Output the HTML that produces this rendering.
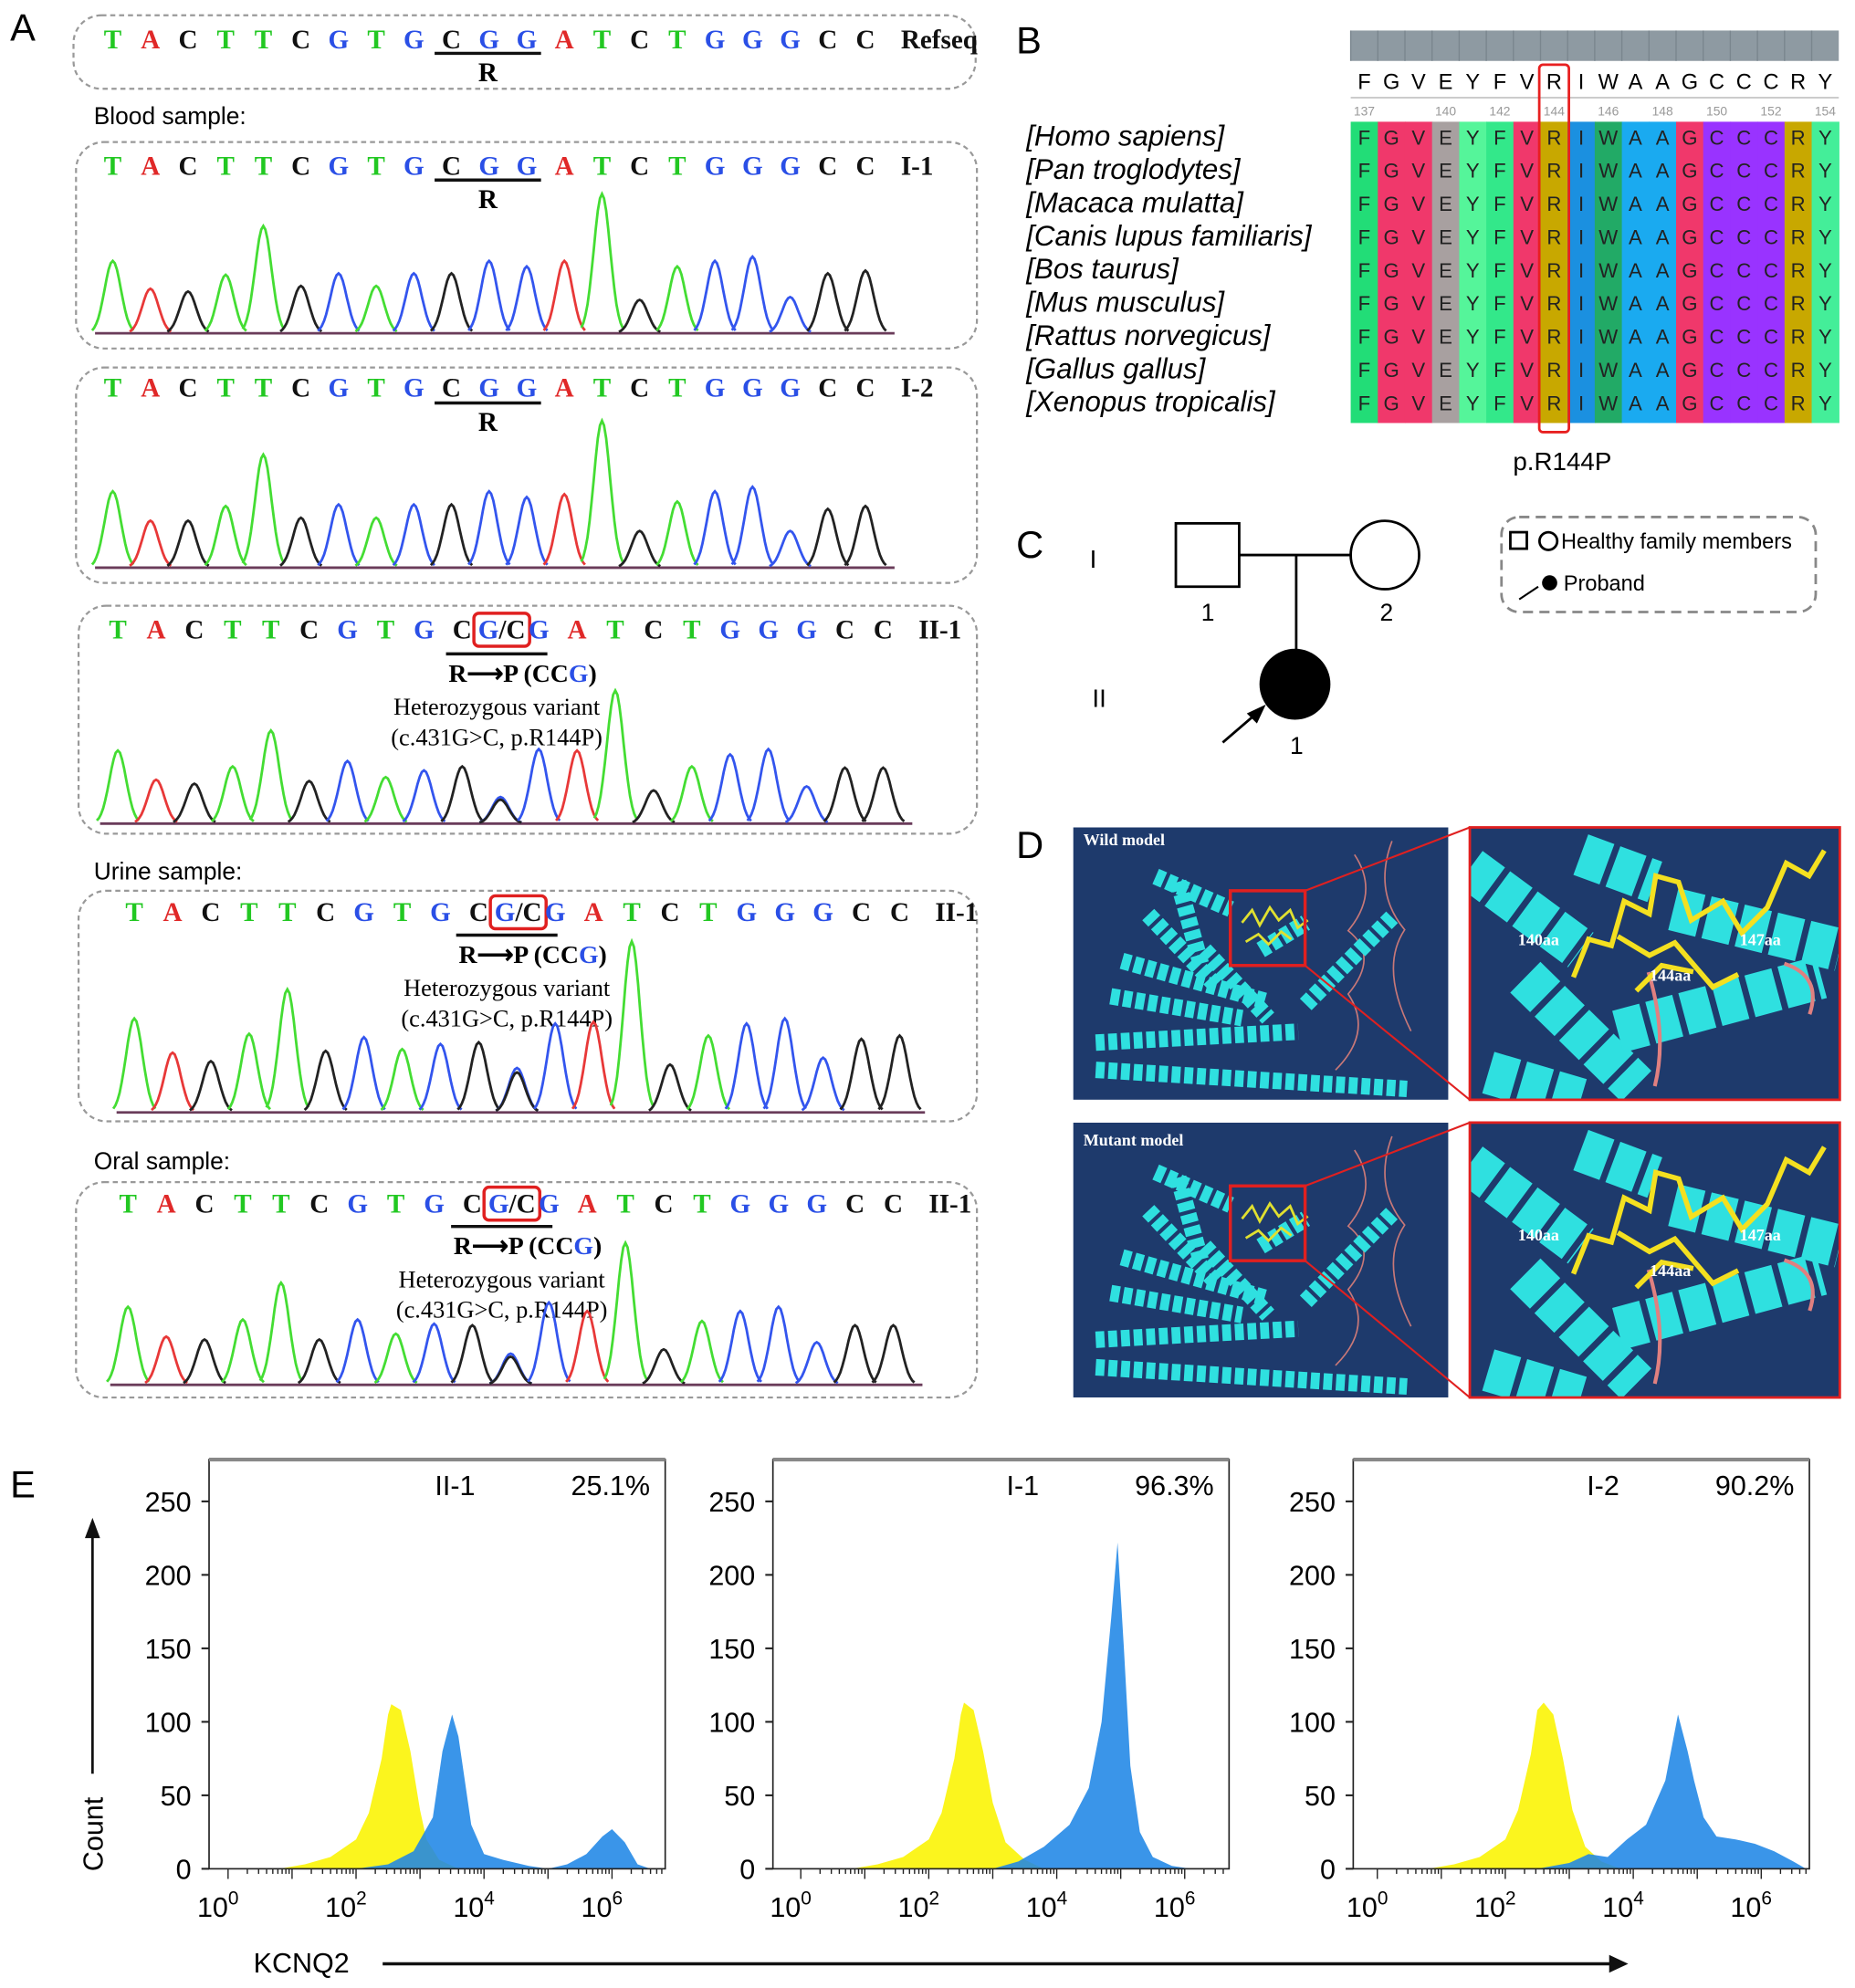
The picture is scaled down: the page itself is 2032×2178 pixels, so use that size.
<!DOCTYPE html>
<html><head><meta charset="utf-8">
<style>
html,body{margin:0;padding:0;background:#fff;}
svg{display:block;}
.seq{font-family:"Liberation Serif",serif;font-weight:bold;font-size:21px;}
.sans{font-family:"Liberation Sans",sans-serif;}
.serif{font-family:"Liberation Serif",serif;}
</style></head>
<body>
<svg id="fig" xmlns="http://www.w3.org/2000/svg" width="2032" height="2178" viewBox="0 0 1464 1569">
<defs id="defs"></defs>
<g class="sans" font-size="30">
<text x="8" y="32">A</text>
<text x="802" y="42">B</text>
<text x="802" y="440">C</text>
<text x="802" y="677">D</text>
<text x="8" y="1182">E</text>
</g>
<g id="panelA"></g>
<g id="panelB"></g>
<g id="panelC">
<text x="860" y="448" class="sans" font-size="20">I</text>
<text x="862" y="558" class="sans" font-size="20">II</text>
<rect x="928" y="413" width="50" height="50" fill="#fff" stroke="#000" stroke-width="2"/>
<line x1="978" y1="438" x2="1066" y2="438" stroke="#000" stroke-width="2"/>
<circle cx="1093" cy="438" r="27" fill="#fff" stroke="#000" stroke-width="2"/>
<line x1="1023" y1="438" x2="1023" y2="513" stroke="#000" stroke-width="2"/>
<circle cx="1022" cy="540" r="28" fill="#000"/>
<line x1="965" y1="586" x2="994" y2="561" stroke="#000" stroke-width="2"/>
<polygon points="999,556 984,563 992,571" fill="#000"/>
<text x="948" y="490" class="sans" font-size="19">1</text>
<text x="1089" y="490" class="sans" font-size="19">2</text>
<text x="1018" y="595" class="sans" font-size="19">1</text>
<rect x="1185" y="408" width="248" height="75" rx="14" fill="none" stroke="#888" stroke-width="2" stroke-dasharray="8,5"/>
<rect x="1192" y="420" width="13" height="13" fill="none" stroke="#000" stroke-width="2"/>
<circle cx="1222" cy="427" r="7" fill="none" stroke="#000" stroke-width="2"/>
<text x="1232" y="433" class="sans" font-size="17">Healthy family members</text>
<line x1="1199" y1="473" x2="1214" y2="463" stroke="#000" stroke-width="1.5"/>
<circle cx="1223" cy="460" r="6" fill="#000"/>
<text x="1234" y="466" class="sans" font-size="17">Proband</text>
</g>
<g id="panelD"></g>
<g id="panelE"></g>
</svg>
<script>
const NS="http://www.w3.org/2000/svg";
function mk(tag,attrs,parent,txt){const e=document.createElementNS(NS,tag);for(const k in attrs)e.setAttribute(k,attrs[k]);if(txt!==undefined)e.textContent=txt;parent.appendChild(e);return e;}

// ---------- Panel A data ----------
const seqBases = "TACTTCGTGCGGATCTGGGCC".split("");
const hI1 = [0.52,0.32,0.30,0.42,0.77,0.34,0.43,0.34,0.43,0.43,0.52,0.48,0.52,1.0,0.24,0.48,0.52,0.55,0.26,0.43,0.45];
const hI2 = [0.52,0.32,0.32,0.42,0.77,0.34,0.43,0.34,0.43,0.43,0.52,0.48,0.50,1.0,0.25,0.45,0.52,0.55,0.25,0.40,0.42];
const hII1 = [0.55,0.33,0.30,0.43,0.70,0.32,0.47,0.35,0.40,0.43,0.20,0.56,0.55,1.0,0.25,0.43,0.52,0.56,0.28,0.42,0.42];
const hUrine = [0.55,0.35,0.30,0.46,0.72,0.36,0.44,0.37,0.40,0.41,0.26,0.52,0.53,1.0,0.28,0.45,0.52,0.55,0.32,0.43,0.45];
const hOral = [0.55,0.34,0.32,0.46,0.72,0.32,0.46,0.36,0.43,0.42,0.22,0.58,0.52,1.0,0.25,0.45,0.52,0.55,0.30,0.42,0.42];
const baseColor={T:"#22c822",A:"#e02828",C:"#111",G:"#2a4fe6"};

const A=document.getElementById("panelA");
function seqRow(x0,dx,y,label,mut,g){
  seqBases.forEach((b,i)=>{
    let x=x0+i*dx;
    if(mut&&i===10){
      const t=mk("text",{x:x+1,y:y,class:"seq","text-anchor":"middle"},g);
      mk("tspan",{fill:baseColor.G},t,"G");mk("tspan",{fill:"#111"},t,"/C");
      mk("rect",{x:x-21,y:y-20,width:44,height:26,rx:4,fill:"none",stroke:"#e02020","stroke-width":2.5},g);
      return;
    }
    mk("text",{x:x,y:y,class:"seq",fill:baseColor[b],"text-anchor":"middle"},g,b);
  });
  mk("text",{x:x0+20*dx+28,y:y,class:"seq",fill:"#111"},g,label);
}
function trace(x0,dx,base,maxH,hs,x1,g,mut){
  const cols={T:"#44dd33",A:"#e83838",C:"#222",G:"#3355ee"};
  mk("line",{x1:x0-14,y1:base,x2:x1,y2:base,stroke:"#6a3c5a","stroke-width":2},g);
  hs.forEach((h,i)=>{
    const b=seqBases[i],cx=x0+i*dx,w=dx*0.55;
    const drawPeak=(col,hh)=>{
      let d="";for(let k=-1;k<=1.0001;k+=0.1){const xx=cx+k*w;const yy=base-hh*maxH*Math.exp(-k*k*3.2);d+=(d?"L":"M")+xx.toFixed(1)+","+yy.toFixed(1);}
      const p=mk("path",{d:d,fill:"none",stroke:col,"stroke-width":2},g);
      
      
    };
    if(mut&&i===10){drawPeak(cols.G,h);drawPeak(cols.C,h*0.9);}
    else drawPeak(cols[b],h);
  });
}
function box(x,y,w,h,name){const r=mk("rect",{x:x,y:y,width:w,height:h,rx:22,fill:"none",stroke:"#999","stroke-width":1.6,"stroke-dasharray":"4,3"},A);}
function rTag(x,y,g){mk("line",{x1:x-42,y1:y,x2:x+42,y2:y,stroke:"#111","stroke-width":2.5},g);mk("text",{x:x,y:y+22,class:"seq","text-anchor":"middle","font-size":19},g,"R");}
function mutText(x,y,g){
  mk("line",{x1:x-40,y1:y,x2:x+40,y2:y,stroke:"#111","stroke-width":2.5},g);
  const t=mk("text",{x:x-38,y:y+22,class:"serif","font-size":20,"font-weight":"bold"},g);
  mk("tspan",{},t,"R\u27F6P (CC");mk("tspan",{fill:"#2a4fe6"},t,"G");mk("tspan",{},t,")");
  mk("text",{x:x,y:y+48,class:"serif","font-size":19,"text-anchor":"middle"},g,"Heterozygous variant");
  mk("text",{x:x,y:y+72,class:"serif","font-size":19,"text-anchor":"middle"},g,"(c.431G>C, p.R144P)");
}
box(58,12,712,58,"refseq-box");
seqRow(89,29.7,38,"Refseq",false,A);
rTag(385,42,A);
mk("text",{x:74,y:98,class:"sans","font-size":19},A,"Blood sample:");
box(60,112,711,163,"blood-i1-box");seqRow(89,29.7,138,"I-1",false,A);rTag(385,142,A);
trace(89,29.7,263,110,hI1,706,A,false);
box(60,290,711,170,"blood-i2-box");seqRow(89,29.7,313,"I-2",false,A);rTag(385,318,A);
trace(89,29.7,448,116,hI2,706,A,false);
box(62,478,709,180,"blood-ii1-box");seqRow(93,30.2,504,"II-1",true,A);mutText(392,516,A);
trace(93,30.2,650,105,hII1,720,A,true);
mk("text",{x:74,y:694,class:"sans","font-size":19},A,"Urine sample:");
box(62,703,709,182,"urine-box");seqRow(106,30.2,727,"II-1",true,A);mutText(400,738,A);
trace(106,30.2,878,135,hUrine,730,A,true);
mk("text",{x:74,y:923,class:"sans","font-size":19},A,"Oral sample:");
box(60,933,711,170,"oral-box");seqRow(101,30.2,957,"II-1",true,A);mutText(396,968,A);
trace(101,30.2,1093,112,hOral,728,A,true);

// ---------- Panel B ----------
const residues="FGVEYFVRIWAAGCCCRY".split("");
const resColors=["#22dd77","#f0386b","#f0386b","#a8a0a0","#55f59a","#33e88a","#f0386b","#c8a800","#1b90e0","#22aa66","#1aaaf0","#1aaaf0","#f0386b","#9933ff","#9933ff","#9933ff","#c8a800","#44ee99"];
const species=["[Homo sapiens]","[Pan troglodytes]","[Macaca mulatta]","[Canis lupus familiaris]","[Bos taurus]","[Mus musculus]","[Rattus norvegicus]","[Gallus gallus]","[Xenopus tropicalis]"];
const posLabels=[[0,"137"],[3,"140"],[5,"142"],[7,"144"],[9,"146"],[11,"148"],[13,"150"],[15,"152"],[17,"154"]];
const B=document.getElementById("panelB");
const bx0=1066,bdx=21.4,by0=96,bdy=26.2;
mk("rect",{x:bx0,y:24,width:bdx*18,height:24,fill:"#8e9aa2"},B);
residues.forEach((r,i)=>{
  const x=bx0+i*bdx;
  mk("line",{x1:x,y1:24,x2:x,y2:48,stroke:"#7a868e","stroke-width":1},B);
  mk("text",{x:x+bdx/2,y:70,class:"sans","font-size":17,"text-anchor":"middle"},B,r);
  const col=mk("rect",{x:x,y:by0,width:bdx+0.5,height:bdy*9+2,fill:resColors[i]},B);
  
  for(let j=0;j<9;j++)mk("text",{x:x+bdx/2,y:by0+18+j*bdy,class:"sans","font-size":16,"text-anchor":"middle",fill:"#222"},B,r);
});
mk("line",{x1:bx0,y1:77,x2:bx0+bdx*18,y2:77,stroke:"#ccc","stroke-width":1.5},B);
posLabels.forEach(p=>mk("text",{x:bx0+p[0]*bdx+bdx/2,y:91,class:"sans","font-size":10,"text-anchor":"middle",fill:"#999"},B,p[1]));
species.forEach((s,j)=>{const t=mk("text",{x:810,y:by0+19+j*bdy,class:"sans","font-size":22.5,"font-style":"italic"},B,s);});
mk("rect",{x:bx0+7*bdx-1,y:51,width:bdx+2,height:290,rx:3,fill:"none",stroke:"#e82020","stroke-width":2},B);
mk("text",{x:1233,y:371,class:"sans","font-size":20,"text-anchor":"middle"},B,"p.R144P");

// ---------- Panel D ----------
const D=document.getElementById("panelD");
const defs=document.getElementById("defs");
const overviewHelices=[[0.13,0.49,0.52,0.64],[0.06,0.79,0.6,0.75],[0.06,0.89,0.89,0.96],[0.62,0.65,0.85,0.33],[0.22,0.18,0.42,0.3],[0.2,0.32,0.38,0.58],[0.1,0.62,0.45,0.7],[0.5,0.45,0.62,0.35],[0.28,0.2,0.34,0.5],[0.35,0.45,0.52,0.7]];
const zoomHelices=[[0.0,0.15,0.3,0.45],[0.15,0.55,0.45,0.95],[0.4,0.75,0.95,0.55],[0.55,0.3,1.0,0.45],[0.05,0.9,0.3,1.0],[0.3,0.1,0.5,0.2]];
let clipN=0;
function helixScene(x,y,w,h,zoom){
  const cid="clip"+(clipN++);
  const cp=mk("clipPath",{id:cid},defs);mk("rect",{x:x,y:y,width:w,height:h},cp);
  const g=mk("g",{"clip-path":`url(#${cid})`},D);
  mk("rect",{x:x,y:y,width:w,height:h,fill:"#1e3a6c"},g);
  if(!zoom){
    mk("path",{d:`M${x+0.75*w},${y+0.1*h} q20,30 -5,60 q25,20 0,50 q20,30 -10,60 M${x+0.85*w},${y+0.05*h} q-15,40 10,70 q-20,30 5,80`,fill:"none",stroke:"#c87878","stroke-width":1.2},g);
  }
  (zoom?zoomHelices:overviewHelices).forEach(hh=>{mk("line",{x1:x+hh[0]*w,y1:y+hh[1]*h,x2:x+hh[2]*w,y2:y+hh[3]*h,stroke:"#2fe0e0","stroke-width":zoom?34:13,"stroke-dasharray":zoom?"22,5":"7,3"},g);});
  if(zoom){
    mk("path",{d:`M${x+0.5*w},${y+0.95*h} q10,-40 -5,-90 M${x+0.85*w},${y+0.5*h} q30,10 20,40`,fill:"none",stroke:"#e08080","stroke-width":3},g);
    mk("path",{d:`M${x+0.28*w},${y+0.55*h} l12,-30 l18,5 l10,-35 l20,10 l5,-30 l18,5 l10,30 l25,-15 l15,25 l20,-20 l15,-35 l18,10 l12,-20 M${x+0.4*w},${y+0.4*h} l25,15 l20,-10 l30,35 l20,-10 M${x+0.45*w},${y+0.6*h} l20,-20 l25,5`,fill:"none",stroke:"#f4e020","stroke-width":4},g);
  } else {
    mk("path",{d:`M${x+0.45*w},${y+0.35*h} l8,-10 l6,12 l8,-14 l7,10 l9,-8 l6,14 l8,-6 M${x+0.46*w},${y+0.42*h} l10,-6 l8,8 l10,-10 l8,6`,fill:"none",stroke:"#e0e030","stroke-width":2},g);
  }
}
helixScene(847,653,296,215,false);helixScene(1160,653,292,215,true);
helixScene(847,886,296,217,false);helixScene(1160,886,292,217,true);
[[653,868],[886,1103]].forEach(r=>{
  mk("rect",{x:1160,y:r[0],width:292,height:r[1]-r[0],fill:"none",stroke:"#e02020","stroke-width":2},D);
  mk("rect",{x:971,y:r[0]+50,width:59,height:59,fill:"none",stroke:"#e02020","stroke-width":2.5},D);
  mk("line",{x1:1030,y1:r[0]+50,x2:1160,y2:r[0],stroke:"#e02020","stroke-width":1.5},D);
  mk("line",{x1:1030,y1:r[0]+109,x2:1160,y2:r[1],stroke:"#e02020","stroke-width":1.5},D);
});
mk("text",{x:855,y:667,class:"serif","font-size":13,"font-weight":"bold",fill:"#fff"},D,"Wild  model");
mk("text",{x:855,y:904,class:"serif","font-size":13,"font-weight":"bold",fill:"#fff"},D,"Mutant  model");
[670,903].forEach(r=>{
  mk("text",{x:1198,y:r+76,class:"serif","font-size":13,"font-weight":"bold",fill:"#fff"},D,"140aa");
  mk("text",{x:1373,y:r+76,class:"serif","font-size":13,"font-weight":"bold",fill:"#fff"},D,"147aa");
  mk("text",{x:1302,y:r+104,class:"serif","font-size":13,"font-weight":"bold",fill:"#fff"},D,"144aa");
});

// ---------- Panel E data ----------
const plotLabels=["II-1","I-1","I-2"];
const plotPercents=["25.1%","96.3%","90.2%"];
const yTicks=[0,50,100,150,200,250];
const xTickExps=[0,2,4,6];
const yellow1X=[0.8,1.2,1.6,2.0,2.2,2.4,2.5,2.55,2.7,2.85,3.0,3.1,3.3,3.6];
const yellow1Y=[0,3,8,20,38,75,105,112,108,80,40,20,6,0];
const blue1X=[2.0,2.5,2.9,3.2,3.35,3.5,3.6,3.8,4.0,4.3,4.7,5.0,5.3,5.6,5.85,6.0,6.2,6.4,6.6];
const blue1Y=[0,3,12,35,80,105,90,30,10,6,2,0,3,10,22,27,18,3,0];
const yellow2X=[0.8,1.2,1.6,2.0,2.2,2.4,2.5,2.55,2.7,2.85,3.0,3.2,3.5,3.8];
const yellow2Y=[0,3,8,20,38,75,105,113,108,80,45,18,6,0];
const blue2X=[3.0,3.4,3.8,4.2,4.5,4.7,4.85,4.95,5.05,5.15,5.3,5.5,5.8,6.1];
const blue2Y=[0,5,15,30,55,100,170,222,150,70,25,8,2,0];
const yellow3X=[0.8,1.2,1.6,2.0,2.2,2.4,2.5,2.6,2.75,2.9,3.05,3.25,3.5,3.8];
const yellow3Y=[0,3,8,20,40,78,108,113,105,75,40,15,5,0];
const blue3X=[2.5,3.0,3.3,3.6,3.9,4.2,4.5,4.7,4.85,4.95,5.1,5.3,5.6,5.9,6.2,6.5,6.7];
const blue3Y=[0,4,10,8,20,30,60,105,80,60,35,22,20,17,12,5,0];
const plotDefs=[{x:165,zero:180,yx:yellow1X,yy:yellow1Y,bx:blue1X,by:blue1Y},{x:610,zero:632,yx:yellow2X,yy:yellow2Y,bx:blue2X,by:blue2Y},{x:1068,zero:1087,yx:yellow3X,yy:yellow3Y,bx:blue3X,by:blue3Y}];
const E=document.getElementById("panelE");
const yBase=1475,yTop=1152,pxPerCount=(1475-1185)/250,pxPerDecade=50.5,plotW=360;
plotDefs.forEach((p,pi)=>{
  const g=mk("g",{},E);
  
  
  const xs=v=>p.zero+v*pxPerDecade, ys=v=>yBase-v*pxPerCount;
  const area=(X,Y,col,op,name)=>{
    let d=`M${xs(X[0])},${yBase}`;X.forEach((v,i)=>d+=`L${xs(v).toFixed(1)},${ys(Y[i]).toFixed(1)}`);d+=`L${xs(X[X.length-1])},${yBase}Z`;
    const pth=mk("path",{d:d,fill:col,opacity:op},g);
    
    
  };
  area(p.yx,p.yy,"#fbf51e",1,"isotype-histogram");
  area(p.bx,p.by,"#1f86e6",0.88,"kcnq2-histogram");
  mk("rect",{x:p.x,y:yTop,width:plotW,height:yBase-yTop,fill:"none",stroke:"#222","stroke-width":1.2},g);
  mk("line",{x1:p.x,y1:yTop,x2:p.x+plotW,y2:yTop,stroke:"#888","stroke-width":3},g);
  yTicks.forEach(t=>{mk("line",{x1:p.x-6,y1:ys(t),x2:p.x,y2:ys(t),stroke:"#222","stroke-width":1.5},g);
    mk("text",{x:p.x-14,y:ys(t)+8,class:"sans","font-size":22,"text-anchor":"end"},g,String(t));});
  for(let e=0;e<7;e++)for(let m=1;m<10;m++){const x=xs(e+Math.log10(m));if(x>p.x+plotW)break;mk("line",{x1:x,y1:yBase,x2:x,y2:yBase+(m===1?8:4),stroke:"#222","stroke-width":1},g);}
  xTickExps.forEach(e=>{const t=mk("text",{x:xs(e)-8,y:yBase+38,class:"sans","font-size":22,"text-anchor":"middle"},g,"10");mk("tspan",{dy:-10,"font-size":15},t,String(e));});
  mk("text",{x:p.x+210,y:1180,class:"sans","font-size":22,"text-anchor":"end"},g,plotLabels[pi]);
  mk("text",{x:p.x+348,y:1180,class:"sans","font-size":22,"text-anchor":"end"},g,plotPercents[pi]);
});
mk("line",{x1:73,y1:1400,x2:73,y2:1210,stroke:"#111","stroke-width":2},E);
mk("polygon",{points:"73,1198 67,1214 79,1214",fill:"#111"},E);
mk("text",{x:81,y:1477,class:"sans","font-size":22,transform:"rotate(-90 81 1477)"},E,"Count");
mk("text",{x:200,y:1557,class:"sans","font-size":22},E,"KCNQ2");
mk("line",{x1:302,y1:1550,x2:1272,y2:1550,stroke:"#111","stroke-width":2.5},E);
mk("polygon",{points:"1285,1550 1270,1543 1270,1557",fill:"#111"},E);
</script>
</body></html>
